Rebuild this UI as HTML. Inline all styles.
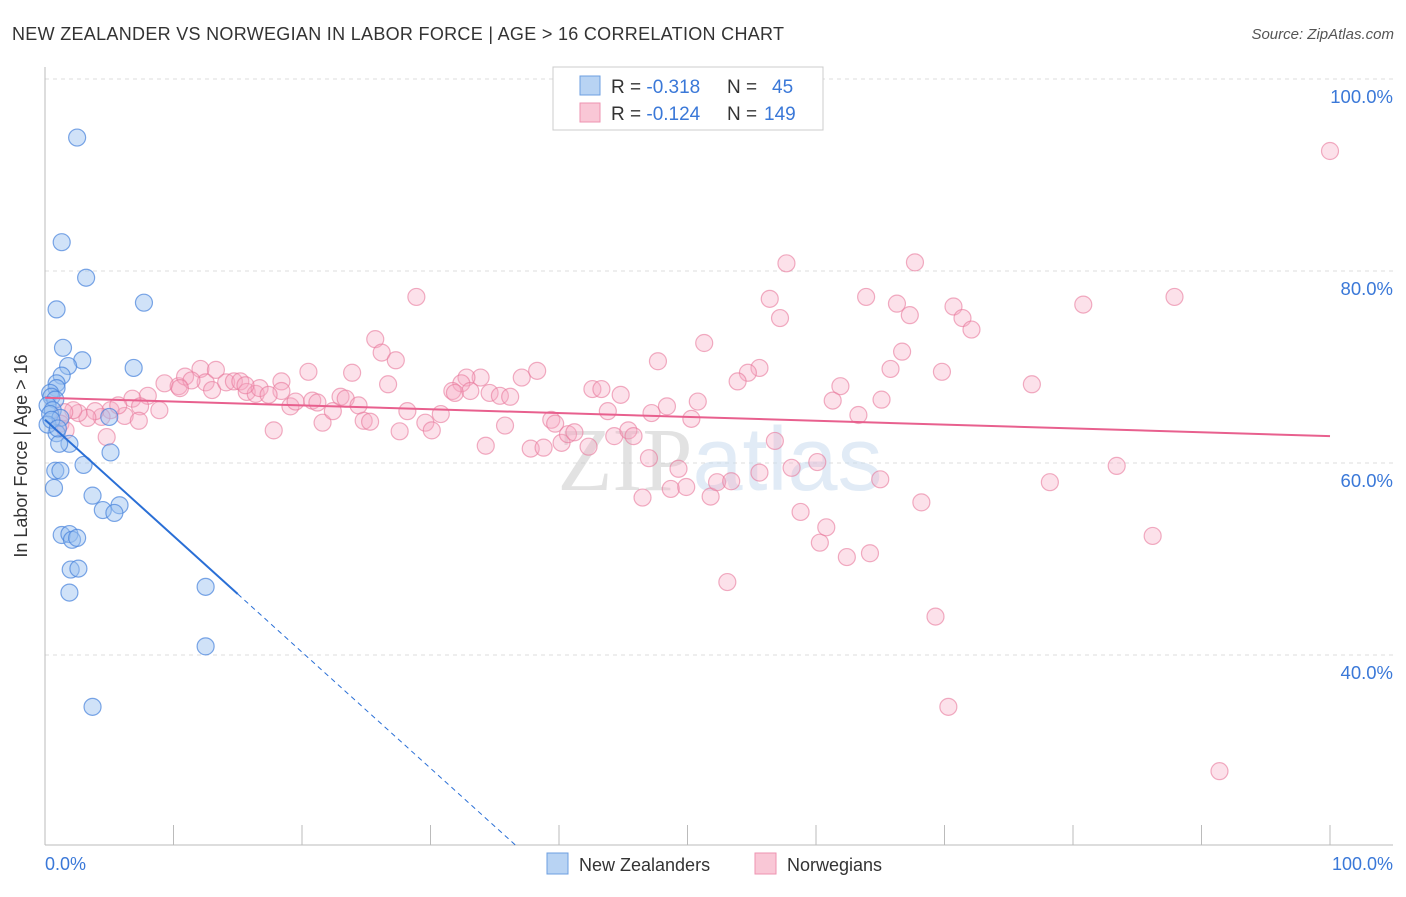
<!DOCTYPE html>
<html><head><meta charset="utf-8"><style>
body{margin:0;background:#fff;font-family:"Liberation Sans",sans-serif;}
svg text{font-family:"Liberation Sans",sans-serif;}
</style></head><body>
<svg width="1406" height="892" viewBox="0 0 1406 892">
<text x="12" y="40" font-size="18" fill="#333" letter-spacing="0.3">NEW ZEALANDER VS NORWEGIAN IN LABOR FORCE | AGE &gt; 16 CORRELATION CHART</text>
<text x="1394" y="39" font-size="15" fill="#555" text-anchor="end" font-style="italic">Source: ZipAtlas.com</text>
<g id="grid"></g>
<text x="720" y="490" font-size="90" fill="#ddd" text-anchor="middle" opacity="0.55"><tspan font-family="Liberation Serif" fill="#ccc">ZIP</tspan><tspan fill="#c9dcef">atlas</tspan></text>
<line x1="45" y1="67" x2="45" y2="845" stroke="#bbb"/>
<line x1="45" y1="845" x2="1393" y2="845" stroke="#bbb"/>
<text x="27" y="456" font-size="18" fill="#333" text-anchor="middle" transform="rotate(-90 27 456)">In Labor Force | Age &gt; 16</text>
<text x="45" y="870" font-size="18" fill="#3a78d8">0.0%</text>
<text x="1393" y="870" font-size="18" fill="#3a78d8" text-anchor="end">100.0%</text>
<g id="pts"></g>
<g id="lines"></g>
<g>
<rect x="553" y="67" width="270" height="63" fill="#fff" stroke="#ccc"/>
<rect x="580" y="76" width="20" height="19" fill="#b8d3f3" stroke="#6d9fe0"/>
<rect x="580" y="103" width="20" height="19" fill="#f9c7d6" stroke="#ee93b0"/>
<text x="611" y="93" font-size="19" fill="#333">R = <tspan fill="#3a78d8">-0.318</tspan><tspan x="727">N = </tspan><tspan x="772" fill="#3a78d8">45</tspan></text>
<text x="611" y="120" font-size="19" fill="#333">R = <tspan fill="#3a78d8">-0.124</tspan><tspan x="727">N = </tspan><tspan x="764" fill="#3a78d8">149</tspan></text>
</g>
<g>
<rect x="547" y="853" width="21" height="21" fill="#b8d3f3" stroke="#6d9fe0"/>
<text x="579" y="871" font-size="18" fill="#333">New Zealanders</text>
<rect x="755" y="853" width="21" height="21" fill="#f9c7d6" stroke="#ee93b0"/>
<text x="787" y="871" font-size="18" fill="#333">Norwegians</text>
</g>
</svg>
<script>
const yTicks=[40,60,80,100];
const xTicks=[10,20,30,40,50,60,70,80,90,100];
const blueX=[2.5,1.3,3.2,0.9,7.7,1.4,2.9,1.8,6.9,1.3,0.9,0.9,0.4,0.5,0.8,0.2,0.6,0.4,1.2,5.0,0.9,1.9,1.1,5.1,3.0,0.8,1.2,0.7,3.7,5.8,4.5,5.4,1.3,1.9,2.1,2.5,2.0,2.6,1.9,12.5,12.5,3.7,0.2,0.5,1.0];
const blueY=[93.9,83.0,79.3,76.0,76.7,72.0,70.7,70.1,69.9,69.1,68.3,67.8,67.3,66.9,66.6,66.0,65.5,65.1,64.7,64.8,63.1,62.0,62.0,61.1,59.8,59.2,59.2,57.4,56.6,55.6,55.1,54.8,52.5,52.6,52.0,52.2,48.9,49.0,46.5,47.1,40.9,34.6,64.0,64.5,63.6];
const pinkX=[100.0,28.9,57.7,67.7,56.4,63.9,66.3,67.3,70.7,71.4,72.1,80.8,87.9,57.2,25.7,26.2,27.3,51.3,47.7,66.7,55.6,54.7,53.9,65.8,69.8,76.8,61.9,61.3,65.1,63.3,38.3,37.1,33.9,32.8,32.4,31.7,31.9,33.1,34.6,35.4,36.2,26.7,23.9,23.0,23.4,24.4,20.5,18.4,18.4,19.1,19.5,20.8,21.2,21.6,22.4,24.8,25.3,27.6,28.2,29.6,30.1,30.8,34.3,35.8,37.8,38.8,39.4,39.7,40.2,40.7,41.2,42.3,42.6,43.3,43.8,44.3,44.8,45.4,45.8,47.2,47.0,48.4,49.3,50.3,50.8,46.5,48.7,49.9,51.8,52.3,53.1,53.4,55.6,56.8,58.1,58.8,60.1,60.3,60.8,62.4,64.2,65.0,68.2,69.3,70.3,78.2,83.4,86.2,91.4,9.3,10.4,10.9,12.1,12.5,13.3,13.0,14.1,14.7,15.2,15.7,16.4,16.7,17.4,17.8,15.6,11.4,10.5,8.0,6.8,6.2,7.4,8.9,5.1,4.4,3.9,3.3,2.6,2.2,1.5,1.2,4.8,7.3,5.7,1.6];
const pinkY=[92.5,77.3,80.8,80.9,77.1,77.3,76.6,75.4,76.3,75.1,73.9,76.5,77.3,75.1,72.9,71.5,70.7,72.5,70.6,71.6,69.9,69.4,68.5,69.8,69.5,68.2,68.0,66.5,66.6,65.0,69.6,68.9,68.9,68.9,68.3,67.5,67.3,67.5,67.3,67.0,66.9,68.2,69.4,66.9,66.7,66.0,69.5,68.5,67.5,65.9,66.4,66.5,66.3,64.2,65.4,64.4,64.3,63.3,65.4,64.2,63.4,65.1,61.8,63.9,61.5,61.6,64.5,64.1,62.1,63.0,63.2,61.7,67.7,67.7,65.4,62.8,67.1,63.4,62.8,65.2,60.5,65.9,59.4,64.6,66.4,56.4,57.3,57.5,56.5,58.0,47.6,58.1,59.0,62.3,59.5,54.9,60.1,51.7,53.3,50.2,50.6,58.3,55.9,44.0,34.6,58.0,59.7,52.4,27.9,68.3,68.0,69.0,69.8,68.4,69.7,67.6,68.4,68.5,68.5,67.4,67.2,67.8,67.1,63.4,68.1,68.6,67.8,67.0,66.7,64.9,65.9,65.5,65.5,64.8,65.4,64.7,65.2,65.5,65.3,64.1,62.7,64.4,66.0,63.4];
const blueTrend=[64.5,-1.21]; // intercept, slope
const pinkTrend=[66.8,-0.04];
const NS='http://www.w3.org/2000/svg';
const sx=v=>45+v*12.85, sy=v=>79+(100-v)*9.6;
function mk(t,a,p){const e=document.createElementNS(NS,t);for(const k in a)e.setAttribute(k,a[k]);document.getElementById(p).appendChild(e);return e;}
yTicks.forEach(t=>{
 const l=mk('line',{x1:45,x2:1393,y1:sy(t),y2:sy(t),stroke:'#ddd','stroke-dasharray':'4,4'},'grid');
 
 
 const tx=mk('text',{x:1393,y:sy(t)+24,'font-size':18.5,fill:'#3a78d8','text-anchor':'end'},'grid');
 tx.textContent=t.toFixed(1)+'%';
 
 
});
xTicks.forEach(t=>{
 const l=mk('line',{x1:sx(t),x2:sx(t),y1:825,y2:845,stroke:'#bbb'},'grid');
 
 
});
pinkX.forEach((x,i)=>{
 const c=mk('circle',{cx:sx(x),cy:sy(pinkY[i]),r:8.5,fill:'rgba(246,170,195,0.35)',stroke:'rgba(232,120,155,0.6)','stroke-width':1.2},'pts');
 
 
});
blueX.forEach((x,i)=>{
 const c=mk('circle',{cx:sx(x),cy:sy(blueY[i]),r:8.5,fill:'rgba(150,190,240,0.45)',stroke:'rgba(70,130,220,0.7)','stroke-width':1.2},'pts');
 
 
});
const bEnd=15, bZero=(blueTrend[0]-20)/-blueTrend[1];
let l=mk('line',{x1:sx(0),y1:sy(blueTrend[0]),x2:sx(bEnd),y2:sy(blueTrend[0]+blueTrend[1]*bEnd),stroke:'#2a6fd6','stroke-width':2},'lines');


l=mk('line',{x1:sx(bEnd),y1:sy(blueTrend[0]+blueTrend[1]*bEnd),x2:sx(bZero),y2:sy(20),stroke:'#2a6fd6','stroke-width':1,'stroke-dasharray':'5,4'},'lines');


l=mk('line',{x1:sx(0),y1:sy(pinkTrend[0]),x2:sx(100),y2:sy(pinkTrend[0]+pinkTrend[1]*100),stroke:'#e8608e','stroke-width':2},'lines');


</script>
</body></html>
